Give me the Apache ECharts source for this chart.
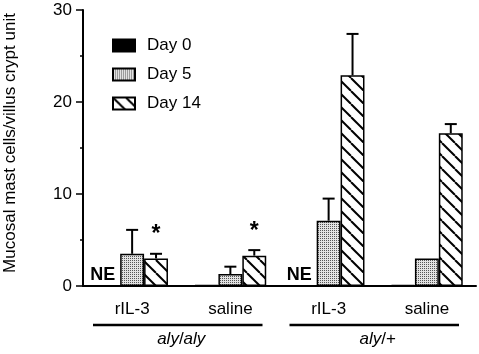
<!DOCTYPE html>
<html>
<head>
<meta charset="utf-8">
<script src="https://cdn.jsdelivr.net/npm/echarts@6/dist/echarts.min.js"></script>
<style>
  html, body { margin: 0; padding: 0; background: #fff; }
  #chart { width: 479px; height: 354px; }
</style>
</head>
<body>
<div id="chart"></div>
<script>
// Mucosal mast cells per villus/crypt unit, grouped by treatment and genotype
const categories = ['rIL-3', 'saline', 'rIL-3', 'saline'];
const groups = ['aly/aly', 'aly/+'];
const seriesNames = ['Day 0', 'Day 5', 'Day 14'];

const day0 = [null, 0.1, null, 0.1];
const day5 = [3.5, 1.3, 7.1, 3.0];
const day14 = [3.0, 3.3, 22.9, 16.6];

// top of error bar (mean + SD), null = none drawn
const day5Err = [6.1, 2.1, 9.5, null];
const day14Err = [3.5, 3.9, 27.4, 17.6];

const notEvaluated = [0, 2];     // categories where Day 0 was NE
const significant = [0, 1];      // Day 14 bars marked with *

const FONT = '"Liberation Sans", Arial, Helvetica, sans-serif';
const FS = 17;
const CAT_GAP = 0.27;

// fill patterns
function makeStipple() {
  const c = document.createElement('canvas');
  c.width = 2; c.height = 2;
  const ctx = c.getContext('2d');
  ctx.fillStyle = '#e2e2e2';
  ctx.fillRect(0, 0, 2, 2);
  ctx.fillStyle = '#555';
  ctx.fillRect(0, 0, 1, 1);
  return c;
}
function makeHatch() {
  const p = 13;
  const c = document.createElement('canvas');
  c.width = p; c.height = p;
  const ctx = c.getContext('2d');
  ctx.fillStyle = '#fff';
  ctx.fillRect(0, 0, p, p);
  ctx.strokeStyle = '#000';
  ctx.lineWidth = 2;
  for (let k = -1; k <= 1; k++) {
    ctx.beginPath();
    ctx.moveTo(k * p, 0);
    ctx.lineTo(k * p + p, p);
    ctx.stroke();
  }
  return c;
}

const errData = [];
day5Err.forEach((v, i) => { if (v != null) errData.push([i, 1, day5[i], v]); });
day14Err.forEach((v, i) => { if (v != null) errData.push([i, 2, day14[i], v]); });

const chart = echarts.init(document.getElementById('chart'), null, { renderer: 'canvas' });

const barBase = {
  type: 'bar',
  barGap: '0%',
  barCategoryGap: (CAT_GAP * 100) + '%',
  silent: true,
  animation: false
};

const option = {
  animation: false,
  textStyle: { fontFamily: FONT },
  grid: { left: 83, right: 3, top: 10, bottom: 68, outerBoundsMode: 'none', containLabel: false },
  legend: {
    data: seriesNames,
    orient: 'vertical',
    left: 107,
    top: 32,
    itemWidth: 22,
    itemHeight: 12,
    itemGap: 12,
    selectedMode: false,
    icon: 'rect',
    textStyle: { fontSize: FS, color: '#000', fontFamily: FONT, lineHeight: 17, padding: [0, 0, 0, 7] }
  },
  xAxis: [
    {
      type: 'category',
      data: categories,
      axisLine: { lineStyle: { color: '#000', width: 2 } },
      axisTick: { length: 5, lineStyle: { color: '#000', width: 1.5 } },
      axisLabel: { color: '#000', fontSize: FS, margin: 15, fontFamily: FONT }
    },
    {
      type: 'category',
      data: groups,
      position: 'bottom',
      offset: 37,
      axisLine: { show: false },
      axisTick: { show: false },
      axisLabel: {
        color: '#000',
        fontSize: FS,
        fontFamily: FONT,
        formatter: v => v.split('/').map(s => s === '+' ? '{n|+}' : '{i|' + s + '}').join('{n|/}'),
        rich: {
          i: { fontStyle: 'italic', fontSize: FS, color: '#000', fontFamily: FONT },
          n: { fontSize: FS, color: '#000', fontFamily: FONT }
        }
      }
    }
  ],
  yAxis: {
    type: 'value',
    min: 0,
    max: 30,
    interval: 10,
    name: 'Mucosal mast cells/villus crypt unit',
    nameLocation: 'middle',
    nameGap: 64,
    nameTextStyle: { fontSize: FS, color: '#000', fontFamily: FONT, padding: [0, 0, 0, 10] },
    axisLine: { show: true, lineStyle: { color: '#000', width: 2 } },
    axisTick: { show: true, length: 7, lineStyle: { color: '#000', width: 1.5 } },
    minorTick: { show: true, splitNumber: 2, length: 3, lineStyle: { color: '#000', width: 1.5 } },
    splitLine: { show: false },
    axisLabel: { color: '#000', fontSize: FS, margin: 11, fontFamily: FONT }
  },
  series: [
    Object.assign({}, barBase, {
      name: 'Day 0',
      data: day0,
      itemStyle: { color: '#000', borderColor: '#000', borderWidth: 1.5 }
    }),
    Object.assign({}, barBase, {
      name: 'Day 5',
      data: day5,
      itemStyle: { color: { image: makeStipple(), repeat: 'repeat' }, borderColor: '#000', borderWidth: 1.5 }
    }),
    Object.assign({}, barBase, {
      name: 'Day 14',
      data: day14.map((v, i) => significant.includes(i) ? {
        value: v,
        label: { show: true, position: 'top', distance: 12, formatter: '*', fontSize: 23, fontWeight: 'bold', color: '#000' }
      } : v),
      itemStyle: { color: { image: makeHatch(), repeat: 'repeat' }, borderColor: '#000', borderWidth: 1.5 }
    }),
    {
      // error bars
      type: 'custom',
      silent: true,
      z: 1,
      data: errData,
      renderItem: (params, api) => {
        const cat = api.value(0);
        const s = api.value(1);
        const bw = api.size([1, 0])[0] * (1 - CAT_GAP) / 3;
        const base = api.coord([cat, api.value(2)]);
        const top = api.coord([cat, api.value(3)]);
        const x = base[0] + (s - 1) * bw;
        const style = { stroke: '#000', lineWidth: 2 };
        return {
          type: 'group',
          children: [
            { type: 'line', shape: { x1: x, y1: base[1], x2: x, y2: top[1] }, style },
            { type: 'line', shape: { x1: x - 6, y1: top[1], x2: x + 6, y2: top[1] }, style }
          ]
        };
      }
    },
    {
      // NE (not evaluated) markers
      type: 'custom',
      silent: true,
      data: notEvaluated.map(i => [i, 0]),
      renderItem: (params, api) => {
        const bw = api.size([1, 0])[0] * (1 - CAT_GAP) / 3;
        const p = api.coord([api.value(0), 0]);
        return {
          type: 'text',
          style: {
            text: 'NE',
            x: p[0] - bw / 2 - 5,
            y: p[1] - 11,
            align: 'right',
            verticalAlign: 'middle',
            font: 'bold 18px ' + FONT,
            fill: '#000'
          }
        };
      }
    }
  ]
};

chart.setOption(option);

// underlines for the genotype groups
const l0 = chart.convertToPixel({ xAxisIndex: 0 }, 0);
const l1 = chart.convertToPixel({ xAxisIndex: 0 }, 1);
const l2 = chart.convertToPixel({ xAxisIndex: 0 }, 2);
const l3 = chart.convertToPixel({ xAxisIndex: 0 }, 3);
const half = (l1 - l0) / 2;
const lineY = chart.convertToPixel({ yAxisIndex: 0 }, 0) + 39;
const seg = (a, b) => ({
  type: 'line',
  shape: { x1: a - half + 10, y1: lineY, x2: b + half - 17, y2: lineY },
  style: { stroke: '#000', lineWidth: 2.5 },
  silent: true
});
chart.setOption({ graphic: [seg(l0, l1), seg(l2, l3)] });
</script>
</body>
</html>
